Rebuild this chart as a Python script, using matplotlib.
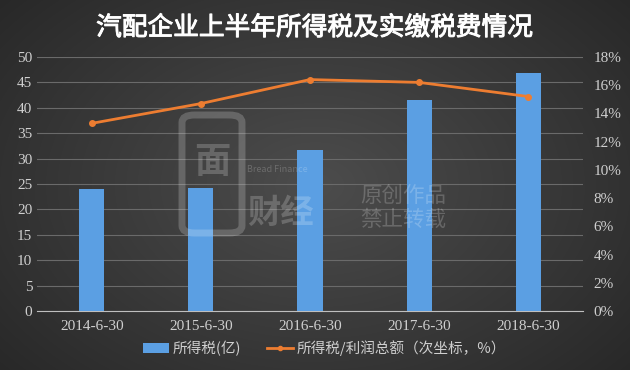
import numpy as np
import matplotlib
matplotlib.use("Agg")
import matplotlib.pyplot as plt
import matplotlib.patheffects as pe
from matplotlib.lines import Line2D
from matplotlib.patches import Patch, FancyBboxPatch

plt.rcParams['font.family'] = ['Noto Sans CJK SC', 'DejaVu Sans']

categories = ["2014-6-30", "2015-6-30", "2016-6-30", "2017-6-30", "2018-6-30"]
tax = [24.0, 24.3, 31.8, 41.6, 46.8]
ratio = [13.3, 14.7, 16.4, 16.2, 15.2]
left_ticks = [0, 5, 10, 15, 20, 25, 30, 35, 40, 45, 50]
right_ticks = [0, 2, 4, 6, 8, 10, 12, 14, 16, 18]
title = "汽配企业上半年所得税及实缴税费情况"
bar_label = "所得税(亿)"
line_label = "所得税/利润总额（次坐标，%）"

W, H = 630, 370
fig = plt.figure(figsize=(6.3, 3.7), dpi=100)

# radial dark background
bg = fig.add_axes([0, 0, 1, 1], zorder=-10)
yy, xx = np.mgrid[0:H, 0:W]
r = np.sqrt(((xx - 315) / 380.0) ** 2 + ((yy - 185) / 260.0) ** 2)
val = np.clip(0.30 - 0.13 * r, 0.15, 0.32)
bg.imshow(np.dstack([val, val, val]), aspect='auto', extent=[0, 1, 0, 1])
bg.set_xlim(0, 1)
bg.set_ylim(0, 1)
bg.axis('off')

ax = fig.add_axes([0.059, 0.159, 0.866, 0.687])
ax.set_facecolor('none')
x = np.arange(len(categories))
ax.bar(x, tax, width=0.23, color='#5B9FE3', zorder=3)
ax.set_xlim(-0.5, len(categories) - 0.5)
ax.set_ylim(0, 50)
ax.set_yticks(left_ticks)
ax.set_xticks(x)
ax.set_xticklabels(categories, family=['Liberation Serif', 'DejaVu Serif'])
ax.grid(axis='y', color='#6a6a6a', linewidth=0.8, zorder=0)
for s in ['top', 'right', 'left']:
    ax.spines[s].set_visible(False)
ax.spines['bottom'].set_color('#bfbfbf')
ax.tick_params(axis='both', length=0, colors='#cfcfcf', labelsize=11)
ax.tick_params(axis='x', pad=6)
for lbl in ax.get_yticklabels():
    lbl.set_family(['Liberation Serif', 'DejaVu Serif'])

ax2 = ax.twinx()
ax2.plot(x, ratio, color='#ED7D31', linewidth=2, marker='o', markersize=4, zorder=5)
ax2.set_ylim(0, 18)
ax2.set_yticks(right_ticks)
ax2.set_yticklabels([f"{t}%" for t in right_ticks], family=['Liberation Serif', 'DejaVu Serif'])
for s in ['top', 'right', 'left', 'bottom']:
    ax2.spines[s].set_visible(False)
ax2.tick_params(axis='y', length=0, colors='#cfcfcf', labelsize=11, pad=8)

fig.text(0.5, 0.924, title, ha='center', va='center', color='white',
         fontsize=18.5, fontweight='normal',
         path_effects=[pe.withStroke(linewidth=0.7, foreground='white')])

# watermark (decoration)
wm = dict(color='white', alpha=0.2)
box = FancyBboxPatch((182 / W, 1 - 233 / H), 60 / W, 118 / H,
                     boxstyle="round,pad=0,rounding_size=0.02",
                     transform=fig.transFigure, facecolor='none',
                     edgecolor='white', alpha=0.2, linewidth=5, zorder=6)
fig.add_artist(box)
fig.text(212 / W, 1 - 162 / H, "面", ha='center', va='center', fontsize=26,
         fontweight='bold', zorder=6, **wm)
fig.text(247 / W, 1 - 213 / H, "财经", ha='left', va='center', fontsize=24,
         fontweight='bold', zorder=6, **wm)
fig.text(247 / W, 1 - 170 / H, "Bread Finance", ha='left', va='center',
         fontsize=6.5, zorder=6, **wm)
fig.text(360 / W, 1 - 208 / H, "原创作品\n禁止转载", ha='left', va='center',
         fontsize=15.5, linespacing=1.1, zorder=6, **wm)

handles = [Patch(facecolor='#5B9FE3', edgecolor='none', label=bar_label),
           Line2D([0], [0], color='#ED7D31', linewidth=2, marker='o', markersize=3,
                  label=line_label)]
leg = fig.legend(handles=handles, loc='center', bbox_to_anchor=(0.515, 0.06), ncol=2,
                 frameon=False, fontsize=10.5, labelcolor='#cfcfcf', handlelength=1.8,
                 handletextpad=0.2, columnspacing=1.8)

fig.savefig("out.png", dpi=100)
